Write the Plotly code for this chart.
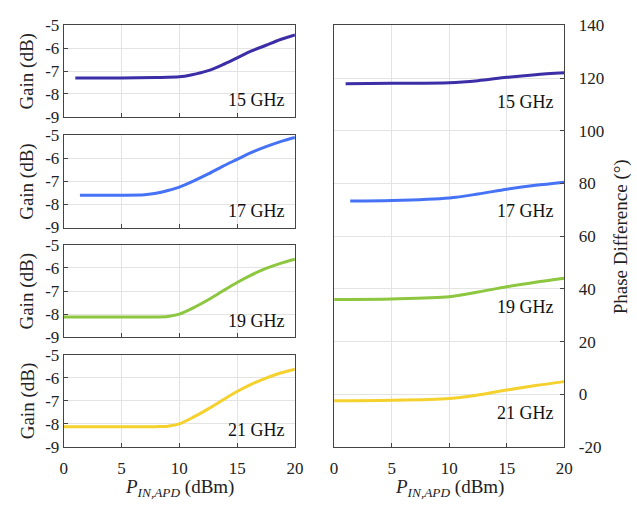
import plotly.graph_objects as go

# ---------------- data ----------------
freqs = ["15 GHz", "17 GHz", "19 GHz", "21 GHz"]
colors = ["#3b2ea6", "#4672f5", "#8dc63f", "#f4d12c"]

gain_x_15 = [1, 5, 8, 10, 11, 12.5, 13.75, 15, 16.25, 17.5, 18.75, 20]
gain_y_15 = [-7.3, -7.3, -7.28, -7.25, -7.17, -6.98, -6.72, -6.42, -6.12, -5.87, -5.62, -5.42]

gain_x_17 = [1.4, 5, 7, 8, 9, 10, 11.25, 12.5, 13.75, 15, 16.25, 17.5, 18.75, 20]
gain_y_17 = [-7.6, -7.6, -7.58, -7.52, -7.4, -7.25, -6.98, -6.68, -6.35, -6.05, -5.75, -5.5, -5.28, -5.1]

gain_x_19 = [0, 5, 8, 9, 10, 11.25, 12.5, 13.75, 15, 16.25, 17.5, 18.75, 20]
gain_y_19 = [-8.12, -8.12, -8.12, -8.1, -8.0, -7.72, -7.38, -7.0, -6.63, -6.3, -6.02, -5.8, -5.62]

gain_x_21 = [0, 5, 8, 9, 10, 11.25, 12.5, 13.75, 15, 16.25, 17.5, 18.75, 20]
gain_y_21 = [-8.12, -8.12, -8.12, -8.1, -8.0, -7.7, -7.35, -6.97, -6.6, -6.28, -6.02, -5.8, -5.63]

phase_x_15 = [1, 5, 10, 12.5, 15, 17.5, 20]
phase_y_15 = [117.8, 118.0, 118.2, 119.0, 120.3, 121.3, 122.0]
phase_x_17 = [1.4, 5, 10, 12.5, 15, 17.5, 20]
phase_y_17 = [73.3, 73.5, 74.5, 76.0, 77.8, 79.3, 80.5]
phase_x_19 = [0, 5, 10, 12.5, 15, 17.5, 20]
phase_y_19 = [36.0, 36.2, 37.0, 38.8, 40.8, 42.5, 44.0]
phase_x_21 = [0, 5, 10, 12.5, 15, 17.5, 20]
phase_y_21 = [-2.5, -2.3, -1.6, -0.3, 1.6, 3.3, 4.8]

gain_ticks = [-9, -8, -7, -6, -5]
gain_tick_text = ["-9", "-8", "-7", "-6", "-5"]
phase_ticks = [-20, 0, 20, 40, 60, 80, 100, 120, 140]
phase_tick_text = ["-20", "0", "20", "40", "60", "80", "100", "120", "140"]
x_ticks = [0, 5, 10, 15, 20]
x_tick_text = ["0", "5", "10", "15", "20"]

gain_sets = [(gain_x_15, gain_y_15), (gain_x_17, gain_y_17),
             (gain_x_19, gain_y_19), (gain_x_21, gain_y_21)]
phase_sets = [(phase_x_15, phase_y_15), (phase_x_17, phase_y_17),
              (phase_x_19, phase_y_19), (phase_x_21, phase_y_21)]
phase_label_y = [111, 69.5, 33, -7]

# ---------------- layout geometry ----------------
W, H = 637, 508
FONT = "Liberation Serif"
def px(x): return x / W
def py(y): return 1 - y / H

left_x = [px(61), px(297)]
right_x = [px(337), px(572)]
left_y = [(17, 112), (131, 227), (245, 341), (359, 455)]

fig = go.Figure()
axis_common = dict(
    showline=True, mirror=True, linecolor="#444444", linewidth=1,
    showgrid=True, gridcolor="#e3e3e3", gridwidth=1,
    ticks="inside", ticklen=4, tickcolor="#444444",
    tickfont=dict(family=FONT, size=17, color="#222222"),
    zeroline=False,
)

annotations = []
for i in range(4):
    n = i + 1
    xa = "x" if n == 1 else f"x{n}"
    ya = "y" if n == 1 else f"y{n}"
    gx, gy = gain_sets[i]
    fig.add_trace(go.Scatter(x=gx, y=gy, mode="lines", xaxis=xa, yaxis=ya,
                             line=dict(color=colors[i], width=3, shape="spline", smoothing=0.8),
                             showlegend=False, hoverinfo="skip"))
    t, b = left_y[i]
    fig.layout[f"xaxis{'' if n == 1 else n}"] = dict(
        domain=left_x, range=[0, 20], anchor=ya, tickvals=x_ticks, ticktext=x_tick_text,
        showticklabels=(i == 3), ticklabelstandoff=6, **axis_common)
    fig.layout[f"yaxis{'' if n == 1 else n}"] = dict(
        domain=[py(b), py(t)], range=[-9, -5], anchor=xa, tickvals=gain_ticks,
        ticktext=gain_tick_text, **axis_common)
    annotations.append(dict(x=px(24), y=py((t + b) / 2), xref="paper", yref="paper",
                            xanchor="center", yanchor="middle",
                            text="Gain (dB)", textangle=-90, showarrow=False,
                            font=dict(family=FONT, size=19, color="#222222")))
    annotations.append(dict(x=19.3, y=-8.28, xref=xa, yref=ya, text=freqs[i],
                            xanchor="right", yanchor="middle", showarrow=False,
                            font=dict(family=FONT, size=18, color="#111111")))

# right panel
for i in range(4):
    phx, phy = phase_sets[i]
    fig.add_trace(go.Scatter(x=phx, y=phy, mode="lines", xaxis="x5", yaxis="y5",
                             line=dict(color=colors[i], width=3, shape="spline", smoothing=0.8),
                             showlegend=False, hoverinfo="skip"))
    annotations.append(dict(x=19.3, y=phase_label_y[i], xref="x5", yref="y5", text=freqs[i],
                            xanchor="right", yanchor="middle", showarrow=False,
                            font=dict(family=FONT, size=18, color="#111111")))

fig.layout["xaxis5"] = dict(domain=right_x, range=[0, 20], anchor="y5",
                            tickvals=x_ticks, ticktext=x_tick_text, ticklabelstandoff=6,
                            **axis_common)
fig.layout["yaxis5"] = dict(domain=[py(455), py(17)], range=[-20, 140], anchor="x5",
                            side="right", tickvals=phase_ticks, ticktext=phase_tick_text,
                            ticklabelstandoff=10, **axis_common)

xtitle = "<i>P</i><sub><i>IN,APD</i></sub> (dBm)"
for cx in (179, 455):
    annotations.append(dict(x=px(cx), y=py(498), xref="paper", yref="paper", text=xtitle,
                            showarrow=False, xanchor="center", yanchor="middle",
                            font=dict(family=FONT, size=19, color="#222222")))
annotations.append(dict(x=px(630), y=py(237), xref="paper", yref="paper",
                        xanchor="center", yanchor="middle",
                        text="Phase Difference (°)", textangle=-90, showarrow=False,
                        font=dict(family=FONT, size=19, color="#222222")))

fig.update_layout(width=W, height=H, margin=dict(l=0, r=0, t=0, b=0),
                  paper_bgcolor="white", plot_bgcolor="white",
                  font=dict(family=FONT),
                  annotations=annotations)

fig.write_html("out.html")
